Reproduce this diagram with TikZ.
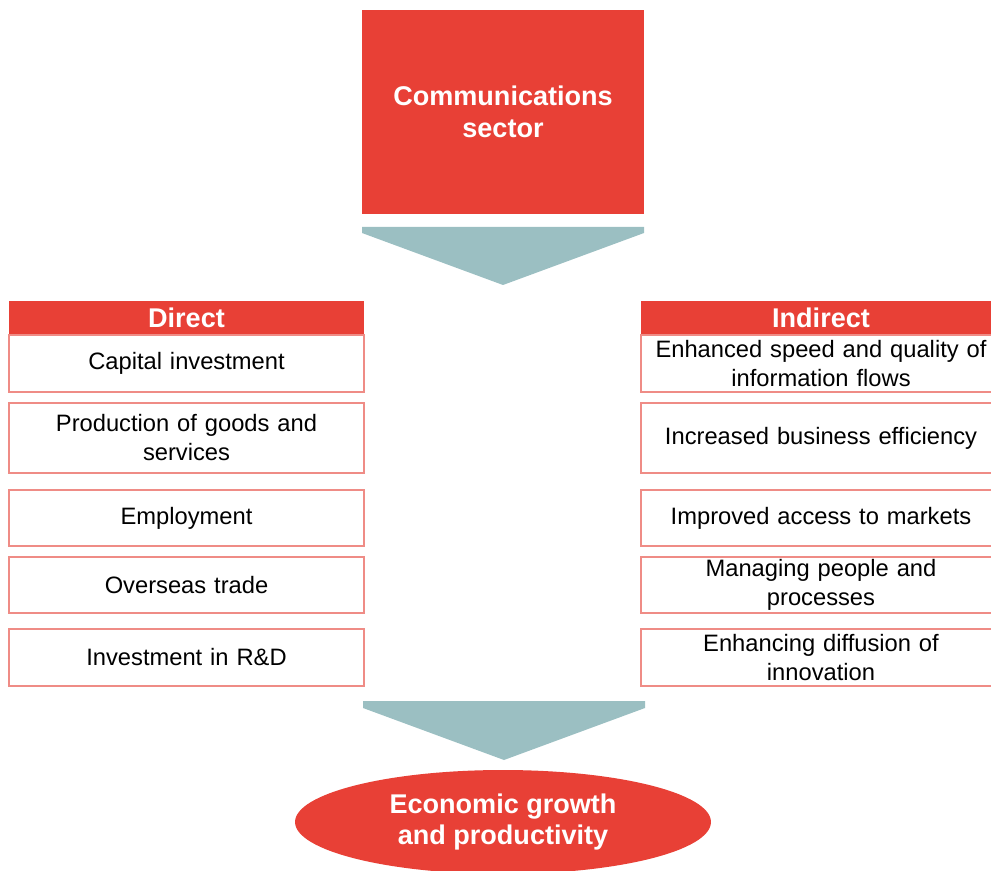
\documentclass[tikz,border=0pt]{standalone}
\usepackage{fontspec}
\setmainfont{Liberation Sans}
\usepackage{xcolor}
\usetikzlibrary{shapes.geometric}
\definecolor{sectorred}{RGB}{232,64,54}
\definecolor{boxline}{RGB}{239,140,134}
\definecolor{chevgrey}{RGB}{155,191,194}
\tikzset{
	head/.style={fill=sectorred,text=white,inner sep=0pt,minimum height=0.68cm,font=\fontsize{15.4}{18.2}\selectfont\bfseries},
	effect/.style={draw=boxline,line width=0.8pt,fill=white,inner sep=0pt,text width=7cm,align=center,font=\fontsize{13.5}{16.5}\selectfont},
	chevron/.style={fill=chevgrey}
}
\begin{document}
\begin{tikzpicture}[x=0.02cm,y=-0.02cm]
	 \useasboundingbox (0,0) rectangle (991,871);
	 %
	 \node (sector) at (503,112) [fill=sectorred,text=white,minimum width=5.64cm,minimum height=4.08cm,align=center,font=\fontsize{15.4}{18.2}\selectfont\bfseries] {Communications\\sector};
	 %
	 %Pfeil oben
	 \fill[chevron] (362,227) -- (644,227) -- (644,233) -- (503,285) -- (362,233) -- cycle;
	 %
	 %Direct
	 \node (direct) at (186.5,318) [head,minimum width=7.1cm] {Direct};
	 %
	 \node (d1) at (186.5,363.5) [effect,minimum width=7.1cm,minimum height=1.14cm] {Capital investment};
	 %
	 \node (d2) at (186.5,438) [effect,minimum width=7.1cm,minimum height=1.4cm] {Production of goods and\\services};
	 %
	 \node (d3) at (186.5,518) [effect,minimum width=7.1cm,minimum height=1.12cm] {Employment};
	 %
	 \node (d4) at (186.5,585) [effect,minimum width=7.1cm,minimum height=1.12cm] {Overseas trade};
	 %
	 \node (d5) at (186.5,657.5) [effect,minimum width=7.1cm,minimum height=1.14cm] {Investment in R\&D};
	 %
	 %Indirect
	 \node (indirect) at (821,318) [head,minimum width=7.2cm] {Indirect};
	 %
	 \node (i1) at (821,363.5) [effect,minimum width=7.2cm,minimum height=1.14cm] {Enhanced speed and quality of\\information flows};
	 %
	 \node (i2) at (821,438) [effect,minimum width=7.2cm,minimum height=1.4cm] {Increased business efficiency};
	 %
	 \node (i3) at (821,518) [effect,minimum width=7.2cm,minimum height=1.12cm] {Improved access to markets};
	 %
	 \node (i4) at (821,585) [effect,minimum width=7.2cm,minimum height=1.12cm] {Managing people and\\processes};
	 %
	 \node (i5) at (821,657.5) [effect,minimum width=7.2cm,minimum height=1.14cm] {Enhancing diffusion of\\innovation};
	 %
	 %Pfeil unten
	 \fill[chevron] (363,701) -- (645,701) -- (645,708) -- (504,760) -- (363,708) -- cycle;
	 %
	 \node (growth) at (503,822) [ellipse,fill=sectorred,text=white,inner sep=0pt,minimum width=8.32cm,minimum height=2.08cm,align=center,font=\fontsize{15.4}{18.2}\selectfont\bfseries] {Economic growth\\and productivity};
\end{tikzpicture}
\end{document}
